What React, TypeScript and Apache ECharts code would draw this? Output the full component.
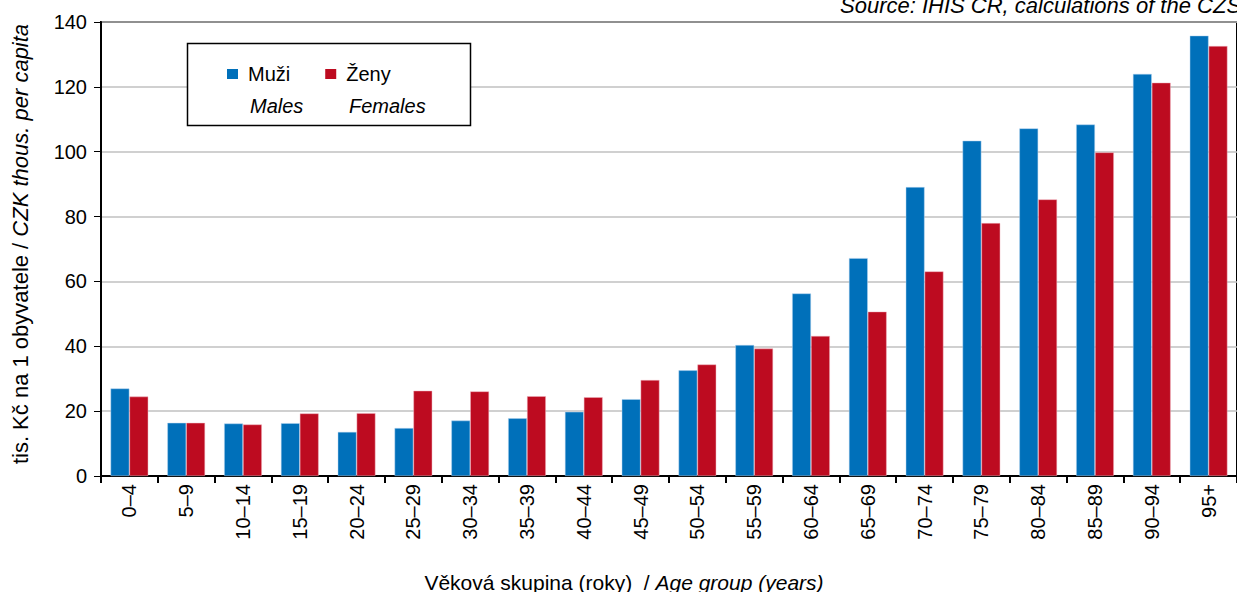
import React, { useEffect, useRef } from "react";
import * as echarts from "echarts";

const categories = ["0–4", "5–9", "10–14", "15–19", "20–24", "25–29", "30–34", "35–39", "40–44", "45–49", "50–54", "55–59", "60–64", "65–69", "70–74", "75–79", "80–84", "85–89", "90–94", "95+"];
const males = [27.0, 16.4, 16.2, 16.3, 13.6, 14.8, 17.1, 17.8, 19.8, 23.7, 32.6, 40.4, 56.3, 67.2, 89.1, 103.4, 107.2, 108.4, 124.0, 135.8];
const females = [24.5, 16.4, 15.9, 19.3, 19.4, 26.3, 26.1, 24.6, 24.3, 29.6, 34.4, 39.3, 43.2, 50.7, 63.1, 78.0, 85.3, 99.8, 121.3, 132.6];
const seriesNames = ["Muži", "Ženy"];
const seriesNamesEn = ["Males", "Females"];
const colors = ["#0070ba", "#bd0b20"];
const yTicks = { min: 0, max: 140, interval: 20 };

const FONT = "'Liberation Sans', Arial, sans-serif";

export default function App() {
  const ref = useRef<HTMLDivElement>(null);
  useEffect(() => {
    document.body.style.margin = "0";
    const chart = echarts.init(ref.current!, null, { renderer: "svg" });
    chart.setOption({
      animation: false,
      textStyle: { fontFamily: FONT },
      grid: { left: 101, top: 22, bottom: 116, width: 1145, show: true, borderColor: "#000", borderWidth: 2, backgroundColor: "transparent" },
      legend: {
        data: seriesNames,
        left: 222,
        top: 59,
        z: 20,
        itemWidth: 11,
        itemHeight: 10,
        itemGap: 35,
        icon: "rect",
        itemStyle: { borderWidth: 0 },
        textStyle: { fontSize: 20, color: "#000", fontFamily: FONT, padding: [0, 0, 0, 5] },
      },
      xAxis: {
        type: "category",
        data: categories,
        axisLine: { lineStyle: { color: "#000", width: 2 } },
        axisTick: { show: true, length: 7, lineStyle: { color: "#000", width: 2 } },
        axisLabel: { rotate: 90, fontSize: 20, color: "#000", margin: 8, fontFamily: FONT },
        name: "",
      },
      yAxis: {
        type: "value",
        min: yTicks.min,
        max: yTicks.max,
        interval: yTicks.interval,
        axisLine: { show: true, lineStyle: { color: "#000", width: 2 } },
        axisTick: { show: true, length: 7, lineStyle: { color: "#000", width: 1 } },
        axisLabel: { fontSize: 20, color: "#000", margin: 14, fontFamily: FONT },
        splitLine: { lineStyle: { color: "#c0c0c0", width: 1.5 } },
      },
      series: [
        {
          name: seriesNames[0],
          type: "bar",
          data: males,
          barGap: "0%",
          barCategoryGap: "33.5%",
          itemStyle: { color: colors[0], borderColor: "rgba(180,210,240,0.8)", borderWidth: 0.6 },
        },
        {
          name: seriesNames[1],
          type: "bar",
          data: females,
          barGap: "0%",
          barCategoryGap: "33.5%",
          itemStyle: { color: colors[1], borderColor: "rgba(240,180,190,0.8)", borderWidth: 0.6 },
        },
      ],
      graphic: [
        {
          type: "rect",
          shape: { x: 187.5, y: 43.5, width: 283, height: 82 },
          style: { fill: "#fff", stroke: "#000", lineWidth: 1.5 },
          z: 3,
        },
        {
          type: "text",
          x: 250,
          y: 106,
          z: 6,
          style: { text: seriesNamesEn[0], font: `italic 20px ${FONT}`, fill: "#000", verticalAlign: "middle" },
        },
        {
          type: "text",
          x: 349,
          y: 106,
          z: 6,
          style: { text: seriesNamesEn[1], font: `italic 20px ${FONT}`, fill: "#000", verticalAlign: "middle" },
        },
        {
          type: "text",
          x: 840,
          y: 16,
          style: { text: "Source: IHIS CR, calculations of the CZSO", font: `italic 22px ${FONT}`, fill: "#000", verticalAlign: "bottom" },
        },
        {
          type: "text",
          x: 20,
          y: 244,
          rotation: Math.PI / 2,
          style: {
            text: "{n|tis. Kč na 1 obyvatele / }{i|CZK thous. per capita}",
            align: "center",
            verticalAlign: "middle",
            rich: {
              n: { fontSize: 22, fontFamily: FONT, fill: "#000" },
              i: { fontSize: 22, fontFamily: FONT, fontStyle: "italic", fill: "#000" },
            },
          },
        },
        {
          type: "text",
          x: 624,
          y: 582,
          style: {
            text: "{n|Věková skupina (roky)  / }{i|Age group (years)}",
            align: "center",
            verticalAlign: "middle",
            rich: {
              n: { fontSize: 21, fontFamily: FONT, fill: "#000" },
              i: { fontSize: 21, fontFamily: FONT, fontStyle: "italic", fill: "#000" },
            },
          },
        },
      ],
    });
    return () => chart.dispose();
  }, []);
  return <div ref={ref} style={{ width: 1237, height: 592 }} />;
}
